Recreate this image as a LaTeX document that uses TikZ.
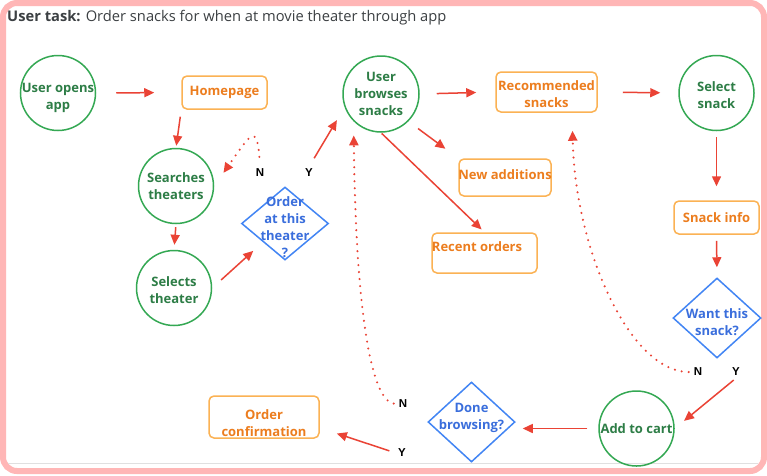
\documentclass[tikz,border=0pt]{standalone}
\usepackage{fontspec}
\setmainfont{Open Sans}
\newfontfamily\ynfont{Liberation Sans}
\usetikzlibrary{shapes.geometric,arrows.meta,calc}
\definecolor{framepink}{RGB}{255,182,182}
\definecolor{gborder}{RGB}{52,168,83}
\definecolor{gtext}{RGB}{45,125,70}
\definecolor{oborder}{RGB}{251,178,84}
\definecolor{otext}{RGB}{236,125,30}
\definecolor{bborder}{RGB}{66,133,244}
\definecolor{btext}{RGB}{58,110,220}
\definecolor{flowred}{RGB}{234,67,53}
\definecolor{titlegray}{RGB}{60,64,67}
\tikzset{
  base/.style={font=\fontsize{13}{17}\selectfont\bfseries, align=center, line width=1.5pt},
  action/.style={base, circle, draw=gborder, text=gtext, minimum size=75pt, inner sep=-12pt},
  screen/.style={base, rectangle, rounded corners=5pt, draw=oborder, text=otext, inner sep=-12pt},
  decision/.style={base, diamond, draw=bborder, text=btext, inner sep=-14pt},
  yn/.style={font=\ynfont\fontsize{11.5}{12}\selectfont\bfseries, inner sep=2pt},
  flow/.style={draw=flowred, line width=1.5pt, -{Triangle[length=10pt,width=9pt]}},
  back/.style={draw=flowred, line width=2.3pt, dash pattern=on 0pt off 7pt, line cap=round, -{Triangle[length=10pt,width=9pt]}},
}
\begin{document}
\begin{tikzpicture}[x=1pt,y=-1pt]
  \useasboundingbox (0,0) rectangle (767,475);
  \fill[white] (0,0) rectangle (767,475);
  \draw[framepink, line width=6pt, rounded corners=14pt] (3,3) rectangle (764,471);
  \draw[black!12, line width=1pt] (8,463.5) -- (758,463.5);
  \node[anchor=base west, font=\fontsize{14.7}{16}\selectfont, text=titlegray, inner sep=0] (task) at (7,21) {\textbf{User task:} Order snacks for when at movie theater through app};

  \node[action, text height=36pt] (open) at (58,93) {User opens\\app};
  \node[screen, minimum width=85pt, minimum height=33pt] (home) at (224.5,92.5) {Homepage};
  \node[action] (search) at (176,186) {Searches\\theaters};
  \node[action, text height=30.5pt] (select) at (174,288) {Selects\\theater};
  \node[decision, minimum width=87pt, minimum height=73pt, text height=68.5pt] (order) at (285,223.5) {Order\\at this\\theater\\?};
  \node[action, minimum size=76pt] (browse) at (381,94) {User\\browses\\snacks};
  \node[screen, minimum width=101pt, minimum height=40pt, text height=31.5pt] (rec) at (546.5,92) {Recommended\\snacks};
  \node[screen, minimum width=92pt, minimum height=37pt, text depth=6pt] (new) at (505,177.5) {New additions};
  \node[screen, minimum width=105pt, minimum height=40pt, text depth=12pt] (recent) at (484.5,253) {Recent orders\hspace*{15pt}};
  \node[action, text height=30.5pt] (pick) at (716.5,93) {Select\\snack};
  \node[screen, minimum width=85pt, minimum height=33pt] (info) at (716.5,217.5) {Snack info};
  \node[decision, minimum width=88pt, minimum height=80pt, text height=34.5pt] (want) at (717,318) {Want this\\snack?};
  \node[action] (cart) at (636.5,428.5) {Add to cart};
  \node[decision, minimum width=87pt, minimum height=80pt, text depth=11.5pt] (done) at (471.5,422) {Done\\browsing?};
  \node[screen, minimum width=110pt, minimum height=42pt, text height=38.5pt] (confirm) at (264,417) {Order\\confirmation};

  \foreach \nm/\x/\y/\txt in {nOrder/260/173/N, yOrder/309/173/Y, nWant/698/372/N, yWant/736/372/Y, nDone/403/404/N, yDone/402/453/Y}
    \node[yn] (\nm) at (\x,\y) {\txt};

  \draw[flow, shorten <=20pt, shorten >=27pt] (open.east) -- (home.west);
  \draw[flow, shorten <=7pt, shorten >=2pt] (home.south west) -- (search.north);
  \draw[flow, shorten <=3pt, shorten >=5pt] (search.south) -- (select.north);
  \draw[flow, shorten <=12pt, shorten >=13pt] (select.east) -- (order.south west);
  \draw[flow, shorten <=10pt, shorten >=15pt] (yOrder.north) -- (browse.200);
  \draw[back, shorten <=10pt, shorten >=16pt] (nOrder.north) .. controls +(-3,-45) and +(35,-50) .. (search.east);
  \draw[flow, shorten <=17pt, shorten >=19pt] (browse.east) -- (rec.west);
  \draw[flow, shorten <=25pt, shorten >=18pt] (rec.east) -- (pick.west);
  \draw[flow, shorten <=6pt, shorten >=14pt] (pick.south) -- (info.north);
  \draw[flow, shorten <=6pt, shorten >=10pt] (info.south) -- (want.north);
  \draw[flow, shorten <=12pt, shorten >=16pt] (browse.south east) -- (new.north west);
  \draw[flow, shorten <=1pt, shorten >=4pt] (browse.south) -- (recent.north);
  \draw[back, shorten <=3pt, shorten >=14pt] (nDone.west) .. controls +(-27,-4) and +(2,179) .. (browse.south west);
  \draw[back, shorten <=3pt, shorten >=18pt] (nWant.west) .. controls +(-61,0) and +(3,138) .. ($(rec.south)!0.5!(rec.south east)$);
  \draw[flow, shorten <=3pt, shorten >=12pt] (yWant.south) -- (cart.east);
  \draw[flow, shorten <=11pt, shorten >=7pt] (cart.west) -- (cart.west -| done.east);
  \draw[flow, shorten <=7pt, shorten >=18pt] (yDone.west) -- ($(confirm.east)!0.5!(confirm.south east)$);
\end{tikzpicture}
\end{document}
